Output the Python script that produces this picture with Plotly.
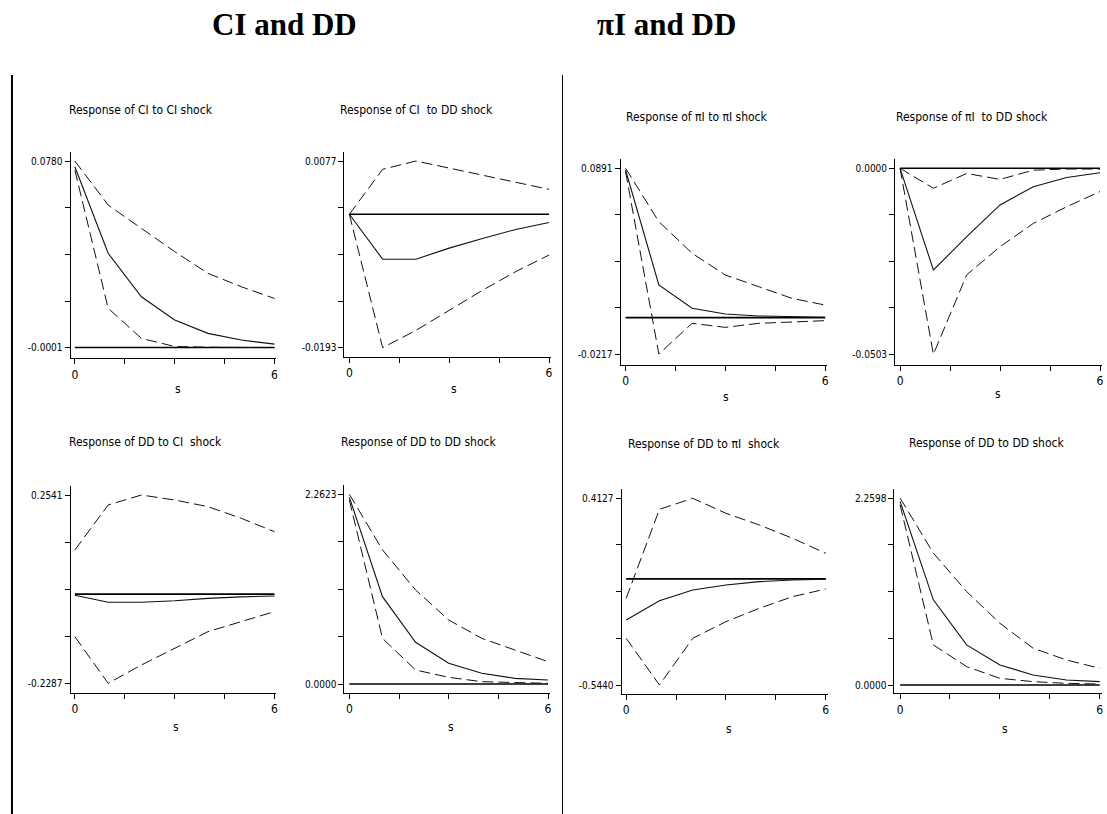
import plotly.graph_objects as go

W, H = 1107, 814

steps = [0, 1, 2, 3, 4, 5, 6]
zero_line = [0, 0, 0, 0, 0, 0, 0]

# Panel 1: Response of CI to CI shock
ci_ci_irf = [0.0756, 0.0394, 0.0212, 0.0115, 0.0059, 0.0031, 0.0014]
ci_ci_lo = [0.0742, 0.0164, 0.0038, 0.0004, 0.0001, 0.0000, -0.0001]
ci_ci_hi = [0.0780, 0.0596, 0.0498, 0.0401, 0.0310, 0.0254, 0.0205]

# Panel 2: Response of CI to DD shock
ci_dd_irf = [0.0, -0.0065, -0.0065, -0.0049, -0.0035, -0.0022, -0.0012]
ci_dd_lo = [0.0, -0.0193, -0.0168, -0.0139, -0.0110, -0.0083, -0.0059]
ci_dd_hi = [0.0, 0.0065, 0.0077, 0.0067, 0.0057, 0.0047, 0.0036]

# Panel 3: Response of πI to πI shock
pi_pi_irf = [0.0881, 0.0195, 0.0056, 0.0022, 0.0010, 0.0004, 0.0002]
pi_pi_lo = [0.0871, -0.0217, -0.0034, -0.0058, -0.0034, -0.0028, -0.0018]
pi_pi_hi = [0.0891, 0.0573, 0.0384, 0.0254, 0.0185, 0.0115, 0.0075]

# Panel 4: Response of πI to DD shock
pi_dd_irf = [0.0, -0.0275, -0.0185, -0.0099, -0.0050, -0.0025, -0.0012]
pi_dd_lo = [0.0, -0.0503, -0.0288, -0.0212, -0.0149, -0.0104, -0.0063]
pi_dd_hi = [0.0, -0.0054, -0.0014, -0.0030, -0.0005, -0.0002, -0.0002]

# Panel 5: Response of DD to CI shock
dd_ci_irf = [-0.003, -0.021, -0.021, -0.017, -0.011, -0.007, -0.005]
dd_ci_lo = [-0.1091, -0.2287, -0.1817, -0.1390, -0.0963, -0.0706, -0.0450]
dd_ci_hi = [0.1131, 0.2285, 0.2541, 0.2413, 0.2242, 0.1943, 0.1601]

# Panel 6: Response of DD to DD shock (CI system)
dd_dd_irf = [2.2265, 1.0417, 0.4970, 0.2465, 0.1272, 0.0676, 0.0477]
dd_dd_lo = [2.1947, 0.5447, 0.1670, 0.0795, 0.0278, 0.0159, 0.0080]
dd_dd_hi = [2.2623, 1.6000, 1.1212, 0.7634, 0.5447, 0.4055, 0.2664]

# Panel 7: Response of DD to πI shock
dd_pi_irf = [-0.2109, -0.1118, -0.0571, -0.0315, -0.0144, -0.0058, -0.0024]
dd_pi_lo = [-0.3048, -0.5440, -0.3048, -0.2194, -0.1510, -0.0913, -0.0520]
dd_pi_hi = [-0.0998, 0.3563, 0.4127, 0.3358, 0.2760, 0.2077, 0.1308]

# Panel 8: Response of DD to DD shock (πI system)
dd_dd2_irf = [2.2194, 1.0290, 0.4842, 0.2421, 0.1211, 0.0605, 0.0404]
dd_dd2_lo = [2.1791, 0.4842, 0.2219, 0.0807, 0.0404, 0.0202, 0.0121]
dd_dd2_hi = [2.2598, 1.5940, 1.1299, 0.7465, 0.4439, 0.3026, 0.2018]

titles = ["Response of CI to CI shock", "Response of CI  to DD shock",
          "Response of πI to πI shock", "Response of πI  to DD shock",
          "Response of DD to CI  shock", "Response of DD to DD shock",
          "Response of DD to πI  shock", "Response of DD to DD shock"]
y_top_labels = ["0.0780", "0.0077", "0.0891", "0.0000", "0.2541", "2.2623", "0.4127", "2.2598"]
y_bot_labels = ["-0.0001", "-0.0193", "-0.0217", "-0.0503", "-0.2287", "0.0000", "-0.5440", "0.0000"]
x_tick_vals = [0, 1.5, 3, 4.5, 6]
x_tick_text = ["0", "", "", "", "6"]
headers = ["CI and DD", "πI and DD"]

series = [
    (ci_ci_irf, ci_ci_lo, ci_ci_hi),
    (ci_dd_irf, ci_dd_lo, ci_dd_hi),
    (pi_pi_irf, pi_pi_lo, pi_pi_hi),
    (pi_dd_irf, pi_dd_lo, pi_dd_hi),
    (dd_ci_irf, dd_ci_lo, dd_ci_hi),
    (dd_dd_irf, dd_dd_lo, dd_dd_hi),
    (dd_pi_irf, dd_pi_lo, dd_pi_hi),
    (dd_dd2_irf, dd_dd2_lo, dd_dd2_hi),
]

# Layout geometry (pixels): axis-line x, x(0), x(6), y(top tick), y(bottom tick), x-axis-line y
geom = [
    (70.7, 75.0, 275.0, 161.0, 347.7, 358.3),
    (345.0, 350.0, 550.0, 161.0, 347.7, 356.7),
    (621.7, 626.7, 826.7, 168.3, 354.0, 365.0),
    (896.7, 901.7, 1102.0, 168.3, 354.3, 365.0),
    (70.7, 75.0, 275.0, 495.0, 683.3, 692.7),
    (345.0, 350.0, 549.0, 494.3, 684.0, 692.7),
    (622.7, 627.3, 827.3, 498.3, 685.0, 694.0),
    (896.0, 901.7, 1101.7, 498.0, 685.0, 693.3),
]
title_pos = [(141, 110), (417, 110), (698, 117), (974, 117),
             (146, 442), (419, 442), (705, 444), (988, 443)]
s_pos = [(178, 389), (455, 389), (727, 397), (1000, 394),
         (176, 727), (452, 727), (730, 729), (1007, 729)]
header_pos = [(285, 24), (668, 24)]

NARROW = "DejaVu Sans Condensed, Liberation Sans Narrow, sans-serif"

fig = go.Figure()
layout = dict(
    width=W, height=H, margin=dict(l=0, r=0, t=0, b=0),
    paper_bgcolor="white", plot_bgcolor="white", showlegend=False,
    annotations=[], shapes=[],
)

dash_style = "11px,5px"

for i, ((irf, lo, hi), (axx, x0, x6, yt, yb, xay)) in enumerate(zip(series, geom)):
    n = i + 1
    xa = "x" if n == 1 else f"x{n}"
    ya = "y" if n == 1 else f"y{n}"
    vtop = float(y_top_labels[i])
    vbot = float(y_bot_labels[i])
    ppu = (x6 - x0) / 6.0
    right = x6 + 2
    xmin = 0 - (x0 - axx) / ppu
    xmax = 6 + (right - x6) / ppu
    k = (vtop - vbot) / (yb - yt)
    top_px = yt - 9
    ymax = vtop + (yt - top_px) * k
    ymin = vbot - (xay - yb) * k

    fig.add_trace(go.Scatter(x=steps, y=zero_line, mode="lines", xaxis=xa, yaxis=ya,
                             line=dict(color="black", width=1.6), hoverinfo="skip"))
    fig.add_trace(go.Scatter(x=steps, y=hi, mode="lines", xaxis=xa, yaxis=ya,
                             line=dict(color="#111111", width=1, dash=dash_style)))
    fig.add_trace(go.Scatter(x=steps, y=lo, mode="lines", xaxis=xa, yaxis=ya,
                             line=dict(color="#111111", width=1, dash=dash_style)))
    fig.add_trace(go.Scatter(x=steps, y=irf, mode="lines", xaxis=xa, yaxis=ya,
                             line=dict(color="#111111", width=1.1)))

    yticks = [vbot + j * (vtop - vbot) / 4 for j in range(5)]
    ytext = [y_bot_labels[i], "", "", "", y_top_labels[i]]

    xkey = "xaxis" if n == 1 else f"xaxis{n}"
    ykey = "yaxis" if n == 1 else f"yaxis{n}"
    layout[xkey] = dict(
        domain=[axx / W, right / W], anchor=ya, range=[xmin, xmax],
        showgrid=False, zeroline=False, showline=True, linecolor="black", linewidth=1,
        ticks="outside", ticklen=5, tickcolor="black", tickwidth=1,
        tickvals=x_tick_vals, ticktext=x_tick_text,
        tickfont=dict(family=NARROW, size=12, color="black"), fixedrange=True,
    )
    layout[ykey] = dict(
        domain=[1 - xay / H, 1 - top_px / H], anchor=xa, range=[ymin, ymax],
        showgrid=False, zeroline=False, showline=True, linecolor="black", linewidth=1,
        ticks="outside", ticklen=5, tickcolor="black", tickwidth=1,
        tickvals=yticks, ticktext=ytext,
        tickfont=dict(family=NARROW, size=10, color="black"), fixedrange=True,
    )
    tx, ty = title_pos[i]
    layout["annotations"].append(dict(
        text=titles[i], x=tx / W, y=1 - ty / H, xref="paper", yref="paper",
        showarrow=False, xanchor="center", yanchor="middle",
        font=dict(family=NARROW, size=12, color="black")))
    sx, sy = s_pos[i]
    layout["annotations"].append(dict(
        text="s", x=sx / W, y=1 - sy / H, xref="paper", yref="paper",
        showarrow=False, xanchor="center", yanchor="middle",
        font=dict(family=NARROW, size=12, color="black")))

for (hx, hy), htxt in zip(header_pos, headers):
    layout["annotations"].append(dict(
        text=f"<b>{htxt}</b>", x=hx / W, y=1 - hy / H, xref="paper", yref="paper",
        showarrow=False, xanchor="center", yanchor="middle",
        font=dict(family="Liberation Serif, Times New Roman, serif", size=31, color="black")))

# Divider lines between the two systems
layout["shapes"].append(dict(type="line", xref="paper", yref="paper",
                             x0=12 / W, x1=12 / W, y0=0, y1=1 - 75 / H,
                             line=dict(color="black", width=2)))
layout["shapes"].append(dict(type="line", xref="paper", yref="paper",
                             x0=563.5 / W, x1=563.5 / W, y0=0, y1=1 - 75 / H,
                             line=dict(color="black", width=1)))

fig.update_layout(**layout)
fig.write_html("out.html")
